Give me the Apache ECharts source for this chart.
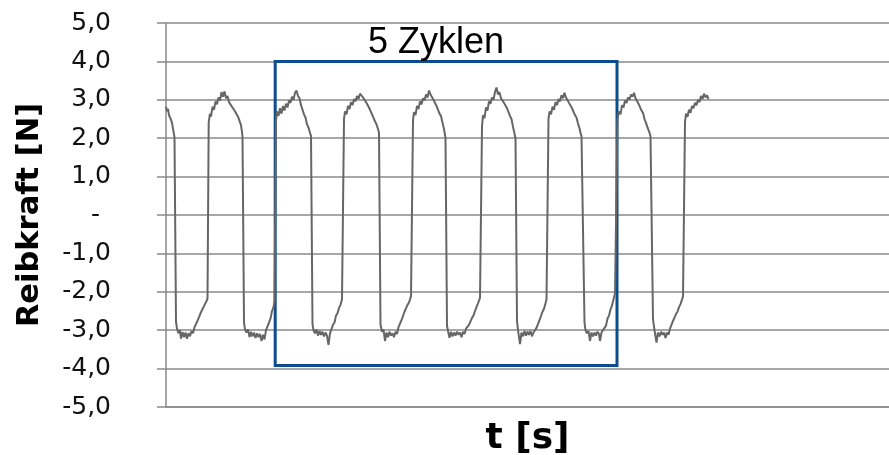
<!DOCTYPE html>
<html><head><meta charset="utf-8">
<script src="https://cdn.jsdelivr.net/npm/echarts@6/dist/echarts.min.js"></script>
<style>html,body{margin:0;padding:0;background:#fff;}#c{width:889px;height:455px;}</style>
</head><body><div id="c"></div>
<script>
// axes
const yMin = -5, yMax = 5, yStep = 1;
const xMax = 72.3; // seconds
const yTitle = 'Reibkraft [N]';
const xTitle = 't [s]';
const boxLabel = '5 Zyklen';
const boxT = [10.92, 45.1];   // seconds
const boxF = [4.0, -3.92];    // N

const samples = [
[0,2.82],[0.1,2.70],[0.2,2.76],[0.3,2.60],[0.4,2.64],[0.5,2.48],[0.6,2.40],[0.7,2.25],[0.8,2.10],[0.85,2.02],
[1.0,-2.78],[1.1,-2.96],[1.25,-3.08],[1.4,-3.00],[1.5,-3.22],[1.65,-3.05],[1.8,-3.18],[1.95,-3.06],[2.1,-3.22],[2.25,-3.08],[2.4,-3.16],[2.55,-3.02],[2.7,-3.08],[2.85,-2.92],[3.0,-2.94],[3.15,-2.76],[3.3,-2.72],[3.45,-2.56],[3.6,-2.52],[3.75,-2.40],[3.9,-2.36],[4.05,-2.24],[4.15,-2.18],
[4.27,2.42],[4.4,2.64],[4.5,2.56],[4.65,2.82],[4.8,2.74],[4.95,2.96],[5.1,2.88],[5.25,3.06],[5.4,2.98],[5.55,3.20],[5.7,3.08],[5.85,3.22],[6.0,3.04],[6.15,3.10],[6.3,2.94],[6.45,2.98],[6.6,2.82],[6.75,2.86],[6.9,2.70],[7.05,2.72],[7.2,2.56],[7.35,2.52],[7.5,2.34],[7.6,2.16],[7.65,2.05],
[7.8,-2.80],[7.9,-2.98],[8.05,-3.06],[8.2,-2.98],[8.35,-3.18],[8.5,-3.04],[8.65,-3.16],[8.8,-3.06],[8.95,-3.20],[9.1,-3.08],[9.25,-3.18],[9.4,-3.10],[9.55,-3.28],[9.7,-3.12],[9.85,-3.24],[10.0,-3.00],[10.15,-3.04],[10.3,-2.80],[10.45,-2.70],[10.6,-2.50],[10.75,-2.40],[10.85,-2.24],
[11.0,2.45],[11.1,2.70],[11.25,2.58],[11.4,2.78],[11.55,2.64],[11.7,2.84],[11.85,2.72],[12.0,2.90],[12.15,2.80],[12.3,2.98],[12.45,2.92],[12.6,3.08],[12.75,3.00],[12.9,3.18],[13.05,3.24],[13.2,3.10],[13.35,3.04],[13.5,2.86],[13.65,2.82],[13.8,2.62],[13.95,2.54],[14.1,2.36],[14.25,2.28],[14.4,2.14],[14.5,2.06],
[14.65,-2.84],[14.75,-3.00],[14.9,-3.08],[15.05,-2.98],[15.2,-3.14],[15.35,-3.02],[15.5,-3.12],[15.65,-3.04],[15.8,-3.16],[15.95,-3.06],[16.1,-3.14],[16.25,-3.38],[16.4,-3.08],[16.55,-3.12],[16.7,-2.86],[16.85,-2.80],[17.0,-2.62],[17.15,-2.56],[17.3,-2.42],[17.45,-2.34],[17.6,-2.20],
[17.8,2.50],[17.9,2.70],[18.05,2.62],[18.2,2.84],[18.35,2.76],[18.5,2.94],[18.65,2.86],[18.8,3.02],[18.95,2.96],[19.1,3.10],[19.25,3.02],[19.4,3.16],[19.55,3.20],[19.7,3.06],[19.85,3.10],[20.0,2.94],[20.15,2.96],[20.3,2.80],[20.45,2.78],[20.6,2.62],[20.75,2.58],[20.9,2.44],[21.05,2.36],[21.2,2.24],[21.3,2.14],
[21.45,-2.86],[21.6,-3.04],[21.75,-2.98],[21.9,-3.28],[22.05,-3.06],[22.2,-3.18],[22.35,-3.04],[22.5,-3.14],[22.65,-3.08],[22.8,-3.18],[22.95,-3.04],[23.1,-3.10],[23.25,-2.92],[23.4,-2.88],[23.55,-2.74],[23.7,-2.70],[23.85,-2.52],[24.0,-2.48],[24.15,-2.34],[24.3,-2.28],[24.5,-2.12],
[24.7,2.46],[24.8,2.68],[24.95,2.60],[25.1,2.84],[25.25,2.76],[25.4,2.96],[25.55,2.88],[25.7,3.04],[25.85,2.98],[26.0,3.14],[26.15,3.06],[26.3,3.24],[26.45,3.14],[26.6,3.18],[26.75,3.00],[26.9,3.02],[27.05,2.84],[27.2,2.84],[27.35,2.64],[27.5,2.58],[27.65,2.40],[27.8,2.24],[27.9,2.08],[27.95,2.00],
[28.1,-2.88],[28.2,-3.02],[28.35,-3.20],[28.5,-3.04],[28.65,-3.16],[28.8,-3.06],[28.95,-3.14],[29.1,-3.04],[29.25,-3.12],[29.4,-3.06],[29.55,-3.18],[29.7,-3.04],[29.85,-3.10],[30.0,-2.96],[30.15,-3.00],[30.3,-2.86],[30.45,-2.84],[30.6,-2.68],[30.75,-2.62],[30.9,-2.50],[31.05,-2.40],[31.2,-2.30],[31.4,-2.16],
[31.6,2.30],[31.7,2.60],[31.85,2.52],[32.0,2.80],[32.15,2.72],[32.3,2.96],[32.45,2.90],[32.6,3.06],[32.75,3.00],[32.9,3.20],[33.05,3.32],[33.2,3.14],[33.35,3.20],[33.5,3.04],[33.65,3.08],[33.8,2.92],[33.95,2.94],[34.1,2.78],[34.25,2.74],[34.4,2.58],[34.55,2.50],[34.7,2.30],[34.85,2.12],[34.95,2.00],
[35.1,-2.76],[35.2,-3.00],[35.4,-3.36],[35.55,-3.06],[35.7,-3.16],[35.85,-3.02],[36.0,-3.14],[36.15,-3.04],[36.3,-3.12],[36.45,-3.02],[36.6,-3.16],[36.75,-3.06],[36.9,-3.10],[37.05,-2.94],[37.2,-2.92],[37.35,-2.74],[37.5,-2.70],[37.65,-2.52],[37.8,-2.44],[37.95,-2.30],[38.05,-2.20],
[38.25,2.50],[38.35,2.70],[38.5,2.62],[38.65,2.82],[38.8,2.74],[38.95,2.94],[39.1,2.86],[39.25,3.02],[39.4,2.96],[39.55,3.12],[39.7,3.04],[39.85,3.18],[40.0,3.06],[40.15,3.08],[40.3,2.92],[40.45,2.94],[40.6,2.78],[40.75,2.76],[40.9,2.60],[41.05,2.54],[41.2,2.38],[41.35,2.26],[41.45,2.14],[41.55,2.06],
[41.85,-2.80],[41.95,-3.00],[42.1,-3.08],[42.25,-3.02],[42.4,-3.28],[42.55,-3.06],[42.7,-3.16],[42.85,-3.06],[43.0,-3.14],[43.15,-3.04],[43.3,-3.10],[43.4,-3.28],[43.55,-3.06],[43.7,-3.02],[43.85,-2.94],[44.0,-2.88],[44.15,-2.70],[44.3,-2.62],[44.45,-2.46],[44.6,-2.36],[44.75,-2.20],[44.9,-2.04],
[45.15,2.50],[45.3,2.70],[45.45,2.62],[45.6,2.86],[45.75,2.80],[45.9,2.98],[46.05,2.92],[46.2,3.06],[46.35,3.00],[46.5,3.14],[46.65,3.08],[46.8,3.18],[46.95,3.04],[47.1,3.06],[47.25,2.90],[47.4,2.88],[47.55,2.72],[47.7,2.66],[47.85,2.50],[48.0,2.40],[48.15,2.28],[48.3,2.18],[48.45,2.06],
[48.7,-2.72],[48.85,-3.00],[49.05,-3.32],[49.2,-3.06],[49.35,-3.16],[49.5,-3.04],[49.65,-3.12],[49.8,-3.06],[49.95,-3.20],[50.1,-3.06],[50.25,-3.12],[50.4,-2.96],[50.55,-2.92],[50.7,-2.76],[50.85,-2.72],[51.0,-2.58],[51.15,-2.52],[51.3,-2.40],[51.45,-2.32],[51.6,-2.20],[51.7,-2.12],
[51.9,2.42],[52.0,2.64],[52.15,2.56],[52.3,2.74],[52.45,2.66],[52.6,2.84],[52.75,2.78],[52.9,2.92],[53.05,2.86],[53.2,3.00],[53.35,2.94],[53.5,3.10],[53.65,3.02],[53.8,3.16],[53.95,3.06],[54.1,3.12],[54.25,3.02]
];

const gridColor = '#8a8a8a';
const chart = echarts.init(document.getElementById('c'), null, {renderer: 'canvas'});
chart.setOption({
  animation: false,
  backgroundColor: '#fff',
  grid: {left: 166, right: 0, top: 23, bottom: 48, containLabel: false, outerBoundsMode: 'none', show: false},
  xAxis: {
    type: 'value', min: 0, max: xMax,
    name: xTitle, nameLocation: 'middle', nameGap: 32,
    nameTextStyle: {fontFamily: 'DejaVu Sans', fontWeight: 'bold', fontSize: 36, color: '#000', verticalAlign: 'middle'},
    axisLine: {show: true, onZero: false, lineStyle: {color: gridColor, width: 1.5}},
    axisTick: {show: false}, axisLabel: {show: false}, splitLine: {show: false}
  },
  yAxis: {
    type: 'value', min: yMin, max: yMax, interval: yStep,
    name: yTitle, nameLocation: 'middle', nameGap: 136, nameRotate: 90,
    nameTextStyle: {fontFamily: 'DejaVu Sans', fontWeight: 'bold', fontSize: 30.5, color: '#000', verticalAlign: 'middle'},
    axisLine: {show: true, onZero: false, lineStyle: {color: gridColor, width: 1.5}},
    axisTick: {show: true, inside: false, length: 9, lineStyle: {color: gridColor, width: 1.5}},
    splitLine: {show: true, showMinLine: true, showMaxLine: true, lineStyle: {color: gridColor, width: 1.5, type: 'solid', opacity: 1}},
    axisLabel: {
      margin: 55, fontFamily: 'DejaVu Sans', fontSize: 25, color: '#111',
      formatter: v => Math.abs(v) < 1e-9 ? '{z|-}' : v.toFixed(1).replace('.', ','),
      rich: {z: {fontFamily: 'DejaVu Sans', fontSize: 25, color: '#111', padding: [0, 11, 0, 0]}}
    }
  },
  series: [{
    type: 'line', data: samples, showSymbol: false, smooth: false,
    lineStyle: {color: '#666666', width: 2}, itemStyle: {color: '#666666'},
    silent: true, z: 3,
    markArea: {
      silent: true,
      itemStyle: {color: 'rgba(0,0,0,0)', borderColor: '#0e4d8c', borderWidth: 3},
      label: {show: true, position: 'top', distance: 2, offset: [-10, 3], formatter: boxLabel,
        fontFamily: 'Liberation Sans', fontSize: 36, color: '#000'},
      data: [[{xAxis: boxT[0], yAxis: boxF[0]}, {xAxis: boxT[1], yAxis: boxF[1]}]]
    }
  }]
});
</script>
</body></html>
